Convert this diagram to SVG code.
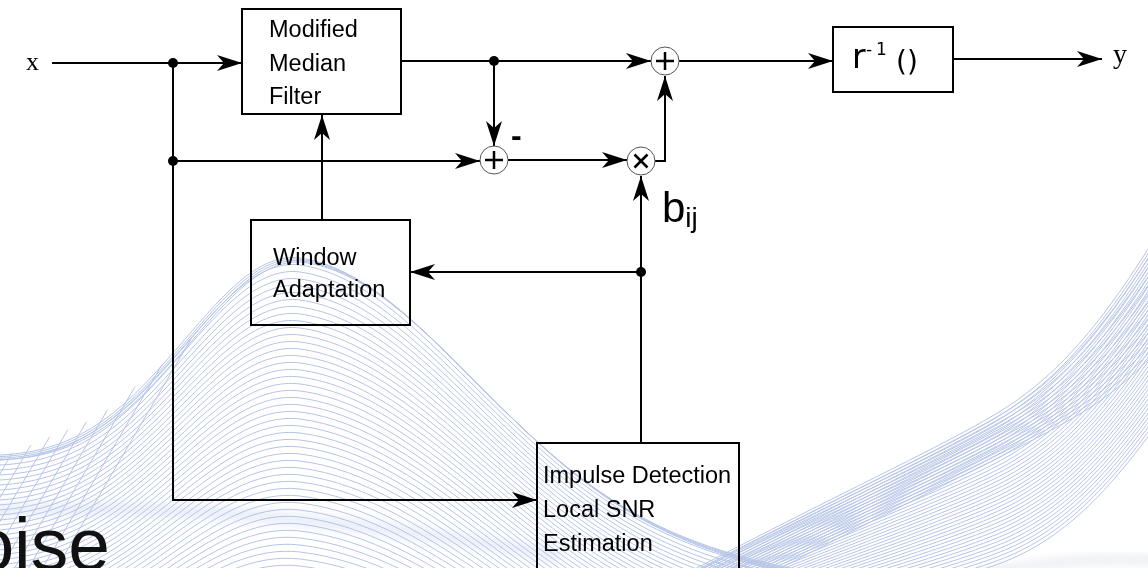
<svg xmlns="http://www.w3.org/2000/svg" xmlns:xlink="http://www.w3.org/1999/xlink" width="1148" height="568" viewBox="0 0 1148 568">
  <style>
    .box{fill:none;stroke:#000;stroke-width:2}
    .lbl{font-family:"Liberation Sans",Arial,sans-serif;font-size:23.5px;fill:#000}
    .serif{font-family:"Liberation Serif","Times New Roman",serif;fill:#000}
    .wire{fill:none;stroke:#000;stroke-width:2}
    .arrow{marker-end:url(#arr)}
    .junction{fill:#000}
    .op{fill:#fff;stroke:#555;stroke-width:1}
    .sign{stroke:#000;stroke-width:2.5;fill:none}
    .bg{fill:none;stroke:#9db0de;stroke-width:1;opacity:0.75}
  </style>
  <defs>
    <marker id="arr" markerUnits="userSpaceOnUse" markerWidth="26" markerHeight="18" refX="25" refY="9" orient="auto" viewBox="0 0 26 18">
      <path d="M0,1 L25,9 L0,17 L7,9 Z" fill="#000"/>
    </marker>
    <!-- unit bell curve, right flank stretched; placed with affine transforms -->
    <path id="bell" vector-effect="non-scaling-stroke" d="M-8,0 L-4,-0.0003 C-3.667,-0.0008 -3.333,0 -3,-0.0111 C-2.667,-0.0222 -2.333,-0.0451 -2,-0.1353 C-1.833,-0.1804 -1.667,-0.2435 -1.5,-0.3247 C-1.333,-0.4059 -1.167,-0.5054 -1,-0.6065 C-0.833,-0.7076 -0.667,-0.809 -0.5,-0.8825 C-0.333,-0.956 -0.167,-1 0,-1 C0.25,-1 0.5,-0.956 0.75,-0.8825 C1,-0.809 1.25,-0.7076 1.5,-0.6065 C1.75,-0.5054 2,-0.4059 2.25,-0.3247 C2.5,-0.2435 2.75,-0.1804 3,-0.1353 C3.5,-0.0451 4,-0.0222 4.5,-0.0111 C5,0 5.5,-0.0008 6,-0.0003 L12,0"/>
    <!-- rising ribbon on the right -->
    <path id="ribbon" vector-effect="non-scaling-stroke" d="M600,620 C800,510 950,445 1010,405 C1065,368 1110,315 1175,205"/>
    <clipPath id="underBell">
      <path d="M-10,600 L-10,462 L0,458 L100,416 L173,355 L220,314 L250,290 L280,270 L300,264 L300,600 Z"/>
    </clipPath>
    <filter id="soft" x="-10%" y="-50%" width="120%" height="200%">
      <feGaussianBlur stdDeviation="4"/>
    </filter>
  </defs>

  <rect width="1148" height="568" fill="#fff"/>

  <!-- decorative wave background -->
  <g id="background" class="bg">
    <path d="M-20,512 C150,502 350,518 560,556" stroke="#dfe6f5" stroke-width="14" opacity="0.8" filter="url(#soft)"/>
    <path d="M980,574 C1050,561 1100,557 1160,561" stroke="#e1e4ec" stroke-width="10" opacity="0.8" filter="url(#soft)"/>
    <g id="bells">
      <use xlink:href="#bell" transform="matrix(115,15.9,0,246.6,301.5,506.1)"/>
      <use xlink:href="#bell" transform="matrix(115,15.9,0,246.6,303,507.6)"/>
      <use xlink:href="#bell" transform="matrix(115,15.9,0,246.6,304.5,509.1)"/>
      <use xlink:href="#bell" transform="matrix(115,15.9,0,246.6,300,504.6)"/>
      <use xlink:href="#bell" transform="matrix(115.5,15.9,0,244.6,300,509.6)"/>
      <use xlink:href="#bell" transform="matrix(116,15.9,0,242.6,300,514.6)"/>
      <use xlink:href="#bell" transform="matrix(116.5,15.9,0,240.6,300,519.6)"/>
      <use xlink:href="#bell" transform="matrix(117,15.9,0,238.6,300,524.6)"/>
      <use xlink:href="#bell" transform="matrix(117.5,15.9,0,236.6,300,529.6)"/>
      <use xlink:href="#bell" transform="matrix(118,15.9,0,234.6,300,534.6)"/>
      <use xlink:href="#bell" transform="matrix(118.5,15.9,0,232.6,300,539.6)"/>
      <use xlink:href="#bell" transform="matrix(119,15.9,0,230.6,300,544.6)"/>
      <use xlink:href="#bell" transform="matrix(119.5,15.9,0,228.6,300,549.6)"/>
      <use xlink:href="#bell" transform="matrix(120,15.9,0,226.6,300,554.6)"/>
      <use xlink:href="#bell" transform="matrix(120.5,15.9,0,224.6,300,559.6)"/>
      <use xlink:href="#bell" transform="matrix(121,15.9,0,222.6,300,564.6)"/>
      <use xlink:href="#bell" transform="matrix(121.5,15.9,0,220.6,300,569.6)"/>
      <use xlink:href="#bell" transform="matrix(122,15.9,0,218.6,300,574.6)"/>
      <use xlink:href="#bell" transform="matrix(122.5,15.9,0,216.6,300,579.6)"/>
      <use xlink:href="#bell" transform="matrix(123,15.9,0,214.6,300,584.6)"/>
      <use xlink:href="#bell" transform="matrix(123.5,15.9,0,212.6,300,589.6)"/>
      <use xlink:href="#bell" transform="matrix(124,15.9,0,210.6,300,594.6)"/>
      <use xlink:href="#bell" transform="matrix(124.5,15.9,0,208.6,300,599.6)"/>
      <use xlink:href="#bell" transform="matrix(125,15.9,0,206.6,300,604.6)"/>
      <use xlink:href="#bell" transform="matrix(125.5,15.9,0,204.6,300,609.6)"/>
      <use xlink:href="#bell" transform="matrix(126,15.9,0,202.6,300,614.6)"/>
      <use xlink:href="#bell" transform="matrix(126.5,15.9,0,200.6,300,619.6)"/>
      <use xlink:href="#bell" transform="matrix(127,15.9,0,198.6,300,624.6)"/>
      <use xlink:href="#bell" transform="matrix(127.5,15.9,0,196.6,300,629.6)"/>
      <use xlink:href="#bell" transform="matrix(128,15.9,0,194.6,300,634.6)"/>
      <use xlink:href="#bell" transform="matrix(128.5,15.9,0,192.6,300,639.6)"/>
      <use xlink:href="#bell" transform="matrix(129,15.9,0,190.6,300,644.6)"/>
      <use xlink:href="#bell" transform="matrix(129.5,15.9,0,188.6,300,649.6)"/>
      <use xlink:href="#bell" transform="matrix(130,15.9,0,186.6,300,654.6)"/>
      <use xlink:href="#bell" transform="matrix(130.5,15.9,0,184.6,300,659.6)"/>
      <use xlink:href="#bell" transform="matrix(131,15.9,0,182.6,300,664.6)"/>
      <use xlink:href="#bell" transform="matrix(131.5,15.9,0,180.6,300,669.6)"/>
      <use xlink:href="#bell" transform="matrix(132,15.9,0,178.6,300,674.6)"/>
      <use xlink:href="#bell" transform="matrix(132.5,15.9,0,176.6,300,679.6)"/>
      <use xlink:href="#bell" transform="matrix(133,15.9,0,174.6,300,684.6)"/>
      <use xlink:href="#bell" transform="matrix(133.5,15.9,0,172.6,300,689.6)"/>
      <use xlink:href="#bell" transform="matrix(134,15.9,0,170.6,300,694.6)"/>
      <use xlink:href="#bell" transform="matrix(134.5,15.9,0,168.6,300,699.6)"/>
      <use xlink:href="#bell" transform="matrix(135,15.9,0,166.6,300,704.6)"/>
      <use xlink:href="#bell" transform="matrix(135.5,15.9,0,164.6,300,709.6)"/>
      <use xlink:href="#bell" transform="matrix(136,15.9,0,162.6,300,714.6)"/>
      <use xlink:href="#bell" transform="matrix(136.5,15.9,0,160.6,300,719.6)"/>
      <use xlink:href="#bell" transform="matrix(137,15.9,0,158.6,300,724.6)"/>
    </g>
    <g id="bell-mesh" clip-path="url(#underBell)">
      <path d="M-150,610 l176,-300 M-136,610 l176,-300 M-122,610 l176,-300 M-108,610 l176,-300 M-94,610 l176,-300 M-80,610 l176,-300 M-66,610 l176,-300 M-52,610 l176,-300 M-38,610 l176,-300 M-24,610 l176,-300 M-10,610 l176,-300 M4,610 l176,-300 M18,610 l176,-300 M32,610 l176,-300"/>
    </g>
    <g id="ribbons">
      <use xlink:href="#ribbon"/>
      <use xlink:href="#ribbon" transform="matrix(1,0.006,0,1,0,-2.2)"/>
      <use xlink:href="#ribbon" transform="matrix(1,0.012,0,1,0,-4.4)"/>
      <use xlink:href="#ribbon" transform="matrix(1,0.018,0,1,0,-6.6)"/>
      <use xlink:href="#ribbon" transform="matrix(1,0.024,0,1,0,-8.8)"/>
      <use xlink:href="#ribbon" transform="matrix(1,0.03,0,1,0,-11)"/>
      <use xlink:href="#ribbon" transform="matrix(1,0.036,0,1,0,-13.2)"/>
      <use xlink:href="#ribbon" transform="matrix(1,0.042,0,1,0,-15.4)"/>
      <use xlink:href="#ribbon" transform="matrix(1,0.048,0,1,0,-17.6)"/>
      <use xlink:href="#ribbon" transform="matrix(1,0.054,0,1,0,-19.8)"/>
      <use xlink:href="#ribbon" transform="matrix(1,0.06,0,1,0,-22)"/>
      <use xlink:href="#ribbon" transform="matrix(1,0.066,0,1,0,-24.2)"/>
      <use xlink:href="#ribbon" transform="matrix(1,0.072,0,1,0,-26.4)"/>
      <use xlink:href="#ribbon" transform="matrix(1,0.078,0,1,0,-28.6)"/>
      <use xlink:href="#ribbon" transform="matrix(1,0.084,0,1,0,-30.8)"/>
      <use xlink:href="#ribbon" transform="matrix(1,0.09,0,1,0,-33)"/>
      <use xlink:href="#ribbon" transform="matrix(1,0.096,0,1,0,-35.2)"/>
      <use xlink:href="#ribbon" transform="matrix(1,0.102,0,1,0,-37.4)"/>
      <use xlink:href="#ribbon" transform="matrix(1,0.108,0,1,0,-39.6)"/>
      <use xlink:href="#ribbon" transform="matrix(1,0.114,0,1,0,-41.8)"/>
      <use xlink:href="#ribbon" transform="matrix(1,0.12,0,1,0,-44)"/>
      <use xlink:href="#ribbon" transform="matrix(1,0.126,0,1,0,-46.2)"/>
      <use xlink:href="#ribbon" transform="matrix(1,0.132,0,1,0,-48.4)"/>
      <use xlink:href="#ribbon" transform="matrix(1,0.138,0,1,0,-50.6)"/>
      <use xlink:href="#ribbon" transform="matrix(1,0.144,0,1,0,-52.8)"/>
      <use xlink:href="#ribbon" transform="matrix(1,0.15,0,1,0,-55)"/>
      <use xlink:href="#ribbon" transform="matrix(1,0.156,0,1,0,-57.2)"/>
      <use xlink:href="#ribbon" transform="matrix(1,0.162,0,1,0,-59.4)"/>
      <use xlink:href="#ribbon" transform="matrix(1,0.168,0,1,0,-61.6)"/>
      <use xlink:href="#ribbon" transform="matrix(1,0.174,0,1,0,-63.8)"/>
      <use xlink:href="#ribbon" transform="matrix(1,0.18,0,1,0,-66)"/>
      <use xlink:href="#ribbon" transform="matrix(1,0.186,0,1,0,-68.2)"/>
      <use xlink:href="#ribbon" transform="matrix(1,0.192,0,1,0,-70.4)"/>
      <use xlink:href="#ribbon" transform="matrix(1,0.198,0,1,0,-72.6)"/>
      <use xlink:href="#ribbon" transform="matrix(1,0.204,0,1,0,-74.8)"/>
      <use xlink:href="#ribbon" transform="matrix(1,0.21,0,1,0,-77)"/>
      <use xlink:href="#ribbon" transform="matrix(1,0.216,0,1,0,-79.2)"/>
      <use xlink:href="#ribbon" transform="matrix(1,0.222,0,1,0,-81.4)"/>
      <use xlink:href="#ribbon" transform="matrix(1,0.228,0,1,0,-83.6)"/>
      <use xlink:href="#ribbon" transform="matrix(1,0.234,0,1,0,-85.8)"/>
      <use xlink:href="#ribbon" transform="matrix(1,0.24,0,1,0,-88)"/>
      <use xlink:href="#ribbon" transform="translate(6,0)"/>
      <use xlink:href="#ribbon" transform="translate(12,0)"/>
      <use xlink:href="#ribbon" transform="translate(18,0)"/>
      <use xlink:href="#ribbon" transform="translate(24,0)"/>
      <use xlink:href="#ribbon" transform="translate(30,0)"/>
      <use xlink:href="#ribbon" transform="translate(36,0)"/>
      <use xlink:href="#ribbon" transform="translate(42,0)"/>
      <use xlink:href="#ribbon" transform="translate(48,0)"/>
      <use xlink:href="#ribbon" transform="translate(54,0)"/>
      <use xlink:href="#ribbon" transform="translate(60,0)"/>
      <use xlink:href="#ribbon" transform="translate(66,0)"/>
      <use xlink:href="#ribbon" transform="translate(72,0)"/>
      <use xlink:href="#ribbon" transform="translate(78,0)"/>
      <use xlink:href="#ribbon" transform="translate(84,0)"/>
    </g>
  </g>

  <!-- partial slide title at the lower left -->
  <text x="110" y="570" text-anchor="end" font-family="Liberation Sans, Arial, sans-serif" font-size="75" fill="#111">oise</text>

  <!-- connectors -->
  <g id="connectors">
    <path class="wire" d="M52,63 H173"/>
    <path class="wire arrow" d="M173,63 H242"/>
    <path class="wire arrow" d="M173,63 V500 H537"/>
    <path class="wire arrow" d="M173,161 H480"/>
    <path class="wire arrow" d="M401,61 H651"/>
    <path class="wire arrow" d="M494,61 V146"/>
    <path class="wire arrow" d="M508,160 H627"/>
    <path class="wire arrow" d="M655,161 H665 V76"/>
    <path class="wire arrow" d="M679,61 H833"/>
    <path class="wire arrow" d="M952,59 H1102"/>
    <path class="wire arrow" d="M641,443 V176"/>
    <path class="wire arrow" d="M641,272 H410"/>
    <path class="wire arrow" d="M322,220 V115"/>
    <circle class="junction" cx="173" cy="63" r="5"/>
    <circle class="junction" cx="173" cy="161" r="5"/>
    <circle class="junction" cx="494" cy="61" r="5"/>
    <circle class="junction" cx="641" cy="272" r="5"/>
  </g>

  <!-- signal labels -->
  <g id="input-x">
    <text class="serif" x="26" y="70" font-size="26">x</text>
  </g>
  <g id="output-y">
    <text class="serif" x="1113" y="63" font-size="28">y</text>
  </g>
  <g id="label-minus">
    <text class="lbl" x="511" y="146" font-weight="bold" style="font-size:32px">-</text>
  </g>
  <g id="label-bij">
    <text class="lbl" x="662" y="222" style="font-size:42px">b<tspan style="font-size:28px" dy="5">ij</tspan></text>
  </g>

  <!-- blocks -->
  <g id="node-mmf">
    <rect class="box" x="242" y="9" width="159" height="105"/>
    <text class="lbl" x="269" y="37">Modified</text>
    <text class="lbl" x="269" y="71">Median</text>
    <text class="lbl" x="269" y="104">Filter</text>
  </g>
  <g id="node-window">
    <rect class="box" x="251" y="220" width="159" height="105"/>
    <text class="lbl" x="273" y="265">Window</text>
    <text class="lbl" x="273" y="297">Adaptation</text>
  </g>
  <g id="node-impulse">
    <rect class="box" x="537" y="443" width="202" height="140"/>
    <text class="lbl" x="543" y="483">Impulse Detection</text>
    <text class="lbl" x="543" y="517">Local SNR</text>
    <text class="lbl" x="543" y="551">Estimation</text>
  </g>
  <g id="node-rinv">
    <rect class="box" x="833" y="27" width="120" height="65"/>
    <text font-family="DejaVu Sans, sans-serif" fill="#000"><tspan x="852" y="68" font-size="33">r</tspan><tspan x="866" y="55" font-size="17">-</tspan><tspan x="876" y="55" font-size="17">1</tspan><tspan x="896" y="71" font-size="28">()</tspan></text>
  </g>
  <g id="node-sum1">
    <circle class="op" cx="494" cy="160" r="14"/>
    <path class="sign" d="M485,160 H503 M494,151 V169"/>
  </g>
  <g id="node-sum2">
    <circle class="op" cx="665" cy="61" r="14"/>
    <path class="sign" d="M656,61 H674 M665,52 V70"/>
  </g>
  <g id="node-mult">
    <circle class="op" cx="641" cy="161" r="14"/>
    <path class="sign" d="M634.5,154.5 L647.5,167.5 M647.5,154.5 L634.5,167.5"/>
  </g>
</svg>
